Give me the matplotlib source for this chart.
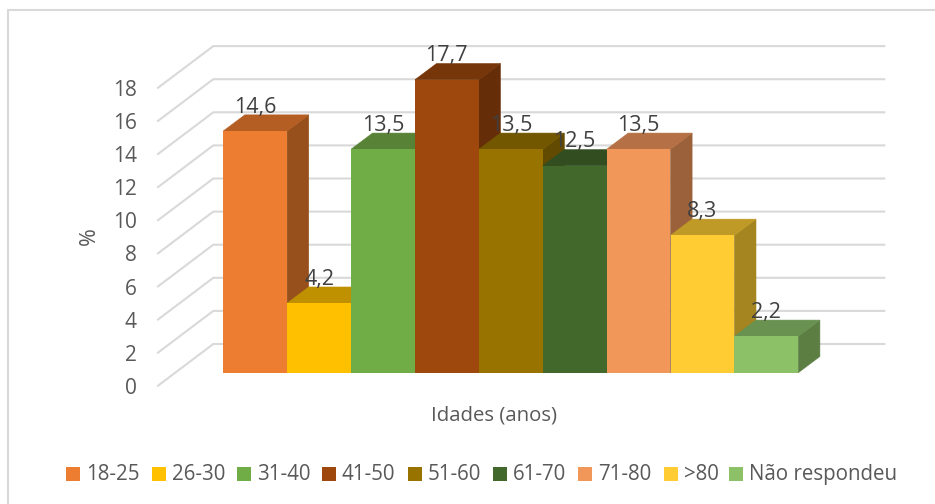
import matplotlib
matplotlib.use("Agg")
import matplotlib.pyplot as plt
from matplotlib.patches import Polygon, Rectangle

# dados do grafico
idades = ["18-25", "26-30", "31-40", "41-50", "51-60", "61-70", "71-80", ">80", "Não respondeu"]
valores = [14.6, 4.2, 13.5, 17.7, 13.5, 12.5, 13.5, 8.3, 2.2]
rotulos = ["14,6", "4,2", "13,5", "17,7", "13,5", "12,5", "13,5", "8,3", "2,2"]
ticks_y = [0, 2, 4, 6, 8, 10, 12, 14, 16, 18]

# cor da frente, do topo e da lateral de cada barra
cor_frente = ["#ED7D31", "#FFC000", "#70AD47", "#9E480E", "#997300", "#43682B", "#F1975A", "#FFCD33", "#8CC168"]
cor_topo = ["#B55E23", "#BF9000", "#588235", "#773609", "#735600", "#324E20", "#B57145", "#C09A26", "#699150"]
cor_lado = ["#97501C", "#A37A00", "#4C7030", "#652D08", "#624A00", "#2B431B", "#9B613A", "#A5851F", "#5C7E43"]

plt.rcParams["font.family"] = ["Open Sans", "DejaVu Sans"]

W, H = 935, 504
fig = plt.figure(figsize=(W / 100, H / 100), dpi=100, facecolor="white")
ax = fig.add_axes([0, 0, 1, 1])

# uma unidade em x = largura de uma barra, em y = 1 %
px_x = 63.9
px_y = 16.55
x0, y0 = 223.2, 372.7
ax.set_xlim(-x0 / px_x, (W - x0) / px_x)
ax.set_ylim((y0 - H) / px_y, y0 / px_y)
ax.axis("off")

# profundidade das barras
prof_x = 21.6 / px_x
prof_y = 16.2 / px_y

# borda do grafico (so em cima e a esquerda)
ax.plot([(8 - x0) / px_x, (8 - x0) / px_x, (W - x0) / px_x],
        [(y0 - H) / px_y, (y0 - 10) / px_y, (y0 - 10) / px_y],
        color="#D9D9D9", lw=1.5, solid_joinstyle="miter", zorder=1)

# parede do fundo e linhas de grade
grade_x = [-1.02, -0.155, 10.346]
base_frente = -0.785
base_fundo = 1.734
for t in ticks_y:
    ax.plot(grade_x, [t + base_frente, t + base_fundo, t + base_fundo],
            color="#D9D9D9", lw=1.5, solid_joinstyle="miter", zorder=1)
    ax.text(-1.354, t + base_frente - 0.16, str(t), ha="right", va="center",
            fontsize=15, color="#595959")

# barras: lateral, topo e frente, da esquerda para a direita
for i, v in enumerate(valores):
    ax.add_patch(Polygon([(i + 1, 0), (i + 1 + prof_x, prof_y), (i + 1 + prof_x, v + prof_y), (i + 1, v)],
                         facecolor=cor_lado[i], edgecolor=cor_lado[i], lw=0.4, zorder=2 + i * 0.1))
    ax.add_patch(Polygon([(i, v), (i + prof_x, v + prof_y), (i + 1 + prof_x, v + prof_y), (i + 1, v)],
                         facecolor=cor_topo[i], edgecolor=cor_topo[i], lw=0.4, zorder=2 + i * 0.1))
    ax.add_patch(Rectangle((i, 0), 1, v, facecolor=cor_frente[i], edgecolor="none", zorder=2.05 + i * 0.1))

# rotulos de valor
for i, v in enumerate(valores):
    ax.text(i + 0.5, v + 1.44, rotulos[i], ha="center", va="center",
            fontsize=15.5, color="#404040", zorder=5)

ax.text((89 - x0) / px_x, (y0 - 236) / px_y, "%", rotation=90, ha="center", va="center",
        fontsize=15.5, color="#595959")
ax.text((494 - x0) / px_x, (y0 - 416) / px_y, "Idades (anos)", ha="center", va="center",
        fontsize=14.7, color="#595959")

# legenda
leg_x = [66, 152, 237, 322, 408, 493, 578, 664, 729]
for xp, nome, cor in zip(leg_x, idades, cor_frente):
    ax.add_patch(Rectangle(((xp - x0) / px_x, (y0 - 481) / px_y), 14 / px_x, 14 / px_y,
                           facecolor=cor, edgecolor="none"))
    ax.text((xp + 20 - x0) / px_x, (y0 - 474.5) / px_y, nome, ha="left", va="center",
            fontsize=14.8, color="#595959")

fig.savefig("out.png", dpi=100)
